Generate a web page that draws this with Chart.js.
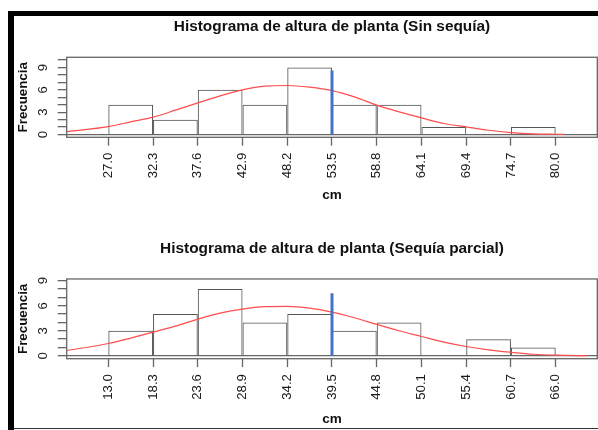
<!DOCTYPE html>
<html>
<head>
<meta charset="utf-8">
<script src="https://cdn.jsdelivr.net/npm/chart.js@4"></script>
<style>
  html, body { margin: 0; padding: 0; background: #fff; }
  #page { position: relative; width: 598px; height: 430px; overflow: hidden; background: #fff; }
  #page canvas { position: absolute; left: 0; }
  #c1 { top: 0; }
  #c2 { top: 215px; }
  .frame { position: absolute; background: #000; }
</style>
</head>
<body>
<div id="page">
  <canvas id="c1" width="598" height="215"></canvas>
  <canvas id="c2" width="598" height="215"></canvas>
  <div class="frame" style="left:8px;top:11px;width:590px;height:5px"></div>
  <div class="frame" style="left:8px;top:11px;width:6px;height:419px"></div>
  <div class="frame" style="left:14px;top:427.5px;width:584px;height:1.5px;background:#333"></div>
</div>
<script>
// ---- Sin sequía ----
const sinTitle = 'Histograma de altura de planta (Sin sequía)';
const sinBreaks = [27.0, 32.3, 37.6, 42.9, 48.2, 53.5, 58.8, 64.1, 69.4, 74.7, 80.0];
const sinCounts = [4, 2, 6, 4, 9, 4, 4, 1, 0, 1];
const sinYTicks = [0, 1, 2, 3, 4, 5, 6, 7, 8, 9, 10];
const sinCurveX = [22.1, 27.0, 29.65, 32.3, 34.95, 37.6, 40.25, 42.9, 45.55, 48.2, 50.85, 53.5,
                   56.15, 58.8, 61.45, 64.1, 66.75, 69.4, 72.05, 74.7, 77.35, 80.0, 81.0];
const sinCurveY = [0.4, 1.07, 1.7, 2.33, 3.27, 4.25, 5.2, 6.0, 6.5, 6.58, 6.36, 5.9,
                   5.05, 3.94, 3.04, 2.23, 1.48, 1.02, 0.58, 0.27, 0.1, 0.04, 0.02];
const sinMarkX = 53.5;
const sinMarkTop = 8.6;

// ---- Sequía parcial ----
const seqTitle = 'Histograma de altura de planta (Sequía parcial)';
const seqBreaks = [13.0, 18.3, 23.6, 28.9, 34.2, 39.5, 44.8, 50.1, 55.4, 60.7, 66.0];
const seqCounts = [3, 5, 8, 4, 5, 3, 4, 0, 2, 1];
const seqYTicks = [0, 1, 2, 3, 4, 5, 6, 7, 8, 9];
const seqCurveX = [8.1, 13.0, 15.65, 18.3, 20.95, 23.6, 26.25, 28.9, 31.55, 34.2, 36.85, 39.5,
                   42.15, 44.8, 47.45, 50.1, 52.75, 55.4, 58.05, 60.7, 63.35, 66.0, 69.7];
const seqCurveY = [0.64, 1.48, 2.12, 2.84, 3.56, 4.4, 5.12, 5.6, 5.88, 5.92, 5.72, 5.24,
                   4.56, 3.76, 3.0, 2.32, 1.64, 1.12, 0.72, 0.43, 0.19, 0.08, 0.02];
const seqMarkX = 39.5;
const seqMarkTop = 7.5;

const FONT = '"Liberation Sans", Arial, Helvetica, sans-serif';
Chart.defaults.font.family = FONT;

// Plot box around the chart area (as R's box()).
const plotBox = {
  id: 'plotBox',
  afterDraw(chart) {
    const a = chart.chartArea;
    const ctx = chart.ctx;
    ctx.save();
    ctx.strokeStyle = '#666';
    ctx.lineWidth = 1.3;
    ctx.strokeRect(a.left, a.top, a.right - a.left, a.bottom - a.top);
    ctx.restore();
  }
};

function histogram(canvasId, p) {
  const bars = p.counts.map((c, i) => ({ x: (p.breaks[i] + p.breaks[i + 1]) / 2, y: c }));
  const curve = p.curveX.map((x, i) => ({ x: x, y: p.curveY[i] }));
  const mark = [{ x: p.markX, y: 0 }, { x: p.markX, y: p.markTop }];

  return new Chart(document.getElementById(canvasId), {
    type: 'bar',
    data: {
      datasets: [
        {
          type: 'bar', data: bars, order: 3,
          backgroundColor: 'rgba(255,255,255,0)', borderColor: '#555', borderWidth: 1,
          borderSkipped: 'start', inflateAmount: 0, barPercentage: 1, categoryPercentage: 1
        },
        {
          type: 'line', data: curve, order: 2,
          borderColor: '#ff4d4d', borderWidth: 1.2, pointRadius: 0, fill: false,
          cubicInterpolationMode: 'monotone'
        },
        {
          type: 'line', data: mark, order: 1,
          borderColor: '#4472c4', borderWidth: 3, pointRadius: 0, fill: false,
          borderCapStyle: 'butt'
        }
      ]
    },
    options: {
      responsive: false,
      animation: false,
      devicePixelRatio: 1,
      events: [],
      layout: { padding: { left: 0, right: 0.7, top: 0, bottom: 0 } },
      plugins: {
        legend: { display: false },
        tooltip: { enabled: false },
        title: {
          display: true, text: p.title, fullSize: false, color: '#111',
          font: { family: FONT, size: 15.4, weight: 'bold', lineHeight: 1.2 },
          padding: { top: p.titleTop, bottom: 21.1 }
        }
      },
      scales: {
        x: {
          type: 'linear', min: p.xMin, max: p.xMax, offset: false,
          afterBuildTicks: s => { s.ticks = p.breaks.map(v => ({ value: v })); },
          afterFit: s => { s.height = p.xAxisHeight; },
          ticks: {
            autoSkip: false, minRotation: 90, maxRotation: 90, padding: 7,
            color: '#1a1a1a', font: { family: FONT, size: 13.2 },
            callback: v => Number(v).toFixed(1)
          },
          grid: {
            display: true, drawOnChartArea: false, drawTicks: true, offset: false,
            tickLength: 8.4, tickColor: '#666', tickWidth: 1.3
          },
          border: { display: false },
          title: {
            display: true, text: 'cm', color: '#111',
            font: { family: FONT, size: 13.5, weight: 'bold', lineHeight: 1.2 },
            padding: { top: 0, bottom: p.cmPad }
          }
        },
        y: {
          type: 'linear', min: p.yMin, max: p.yMax,
          afterBuildTicks: s => { s.ticks = p.yTicks.map(v => ({ value: v })); },
          afterFit: s => { s.width = 66.7; },
          ticks: {
            autoSkip: false, minRotation: 90, maxRotation: 90, crossAlign: 'center',
            padding: 10.5, color: '#1a1a1a', font: { family: FONT, size: 13.2 },
            callback: v => (v % 3 === 0 ? String(v) : '')
          },
          grid: {
            drawOnChartArea: true, drawTicks: true, tickLength: 9,
            tickColor: '#666', tickWidth: 1.3, lineWidth: 1.3,
            color: c => (c.tick && c.tick.value === 0 ? '#666' : 'rgba(0,0,0,0)')
          },
          border: { display: false },
          title: {
            display: true, text: 'Frecuencia', color: '#111',
            font: { family: FONT, size: 13.3, weight: 'bold', lineHeight: 1.2 },
            padding: { top: 15.4, bottom: 0 }
          }
        }
      }
    },
    plugins: [plotBox]
  });
}

histogram('c1', {
  title: sinTitle, breaks: sinBreaks, counts: sinCounts, yTicks: sinYTicks,
  curveX: sinCurveX, curveY: sinCurveY, markX: sinMarkX, markTop: sinMarkTop,
  xMin: 22.07, xMax: 84.93, yMin: -0.37, yMax: 10.37,
  titleTop: 17.7, xAxisHeight: 77.7, cmPad: 11.5
});

histogram('c2', {
  title: seqTitle, breaks: seqBreaks, counts: seqCounts, yTicks: seqYTicks,
  curveX: seqCurveX, curveY: seqCurveY, markX: seqMarkX, markTop: seqMarkTop,
  xMin: 8.07, xMax: 70.93, yMin: -0.34, yMax: 9.2,
  titleTop: 24.4, xAxisHeight: 71.3, cmPad: 2.9
});
</script>
</body>
</html>
